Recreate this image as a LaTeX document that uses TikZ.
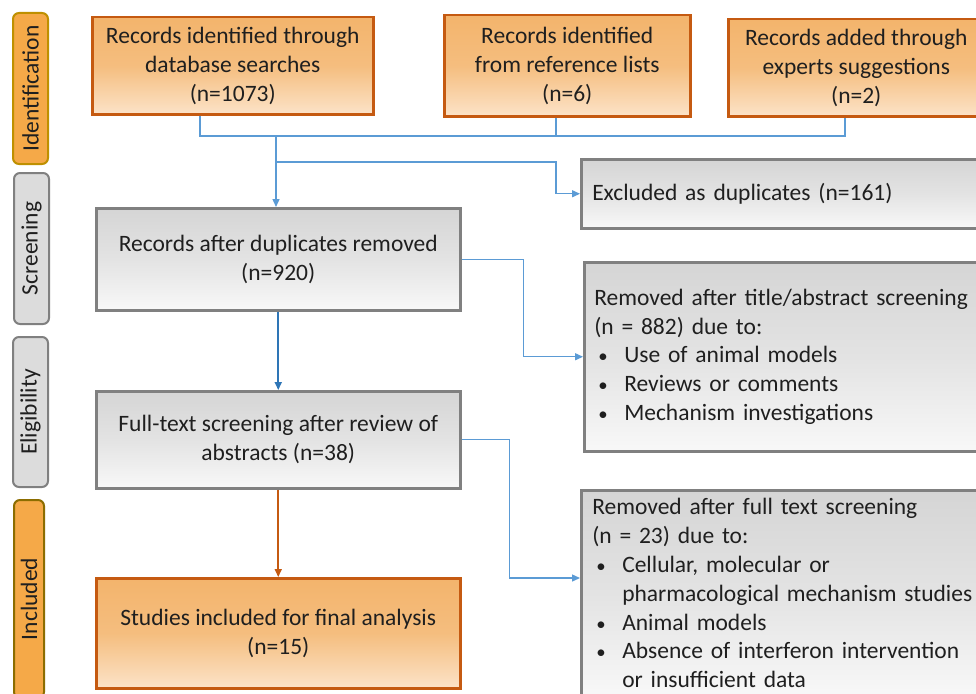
\documentclass[tikz,border=0pt]{standalone}
\usepackage{fontspec}
\setmainfont{Carlito}
\usetikzlibrary{arrows.meta,calc}
\definecolor{obord}{HTML}{C55A11}
\definecolor{otop}{HTML}{F3B46C}
\definecolor{obot}{HTML}{FCE3C8}
\definecolor{gbord}{HTML}{808080}
\definecolor{gtop}{HTML}{D5D5D5}
\definecolor{gbot}{HTML}{F8F8F8}
\definecolor{lblue}{HTML}{5B9BD5}
\definecolor{dblue}{HTML}{2E75B6}
\definecolor{txt}{HTML}{1F1F1F}
\definecolor{sideor}{HTML}{F5A948}
\definecolor{sideorb}{HTML}{BF9000}
\definecolor{sideorc}{HTML}{8C6D00}
\definecolor{sideg}{HTML}{DCDCDC}
\newcommand{\mainsz}{\fontsize{23.5}{28.8}\selectfont}
\tikzset{
  basebox/.style={anchor=north west, inner sep=0pt, line width=2.5pt, text=txt, font=\mainsz},
  obox/.style={basebox, draw=obord, top color=otop, bottom color=obot, middle color=otop!80!obot, align=center},
  gbox/.style={basebox, draw=gbord, top color=gtop, bottom color=gbot, middle color=gtop!60!gbot, align=center},
  rbox/.style={basebox, draw=gbord, top color=gtop, bottom color=gbot, middle color=gtop!60!gbot, align=left, inner xsep=10pt, text width=400pt, minimum width=420pt},
  sidelab/.style={rotate=90, rounded corners=6pt, line width=2pt, inner sep=0pt, text=txt, font=\mainsz},
  sideo/.style={sidelab, draw=sideorb, fill=sideor},
  sideg/.style={sidelab, draw=gbord, fill=sideg},
  conn/.style={draw=lblue, line width=1.4pt},
  carr/.style={conn, -{Triangle[length=8pt,width=7pt]}},
  darr/.style={draw=dblue, line width=1.8pt, -{Triangle[length=8pt,width=7pt]}},
  oarr/.style={draw=obord, line width=1.6pt, -{Triangle[length=8pt,width=7pt]}},
}
\newcommand{\bul}{\hspace*{4pt}\makebox[26pt][l]{\scalebox{0.8}{•}}}
\newcommand{\cont}{\hspace*{30pt}}
\begin{document}
\begin{tikzpicture}[x=1pt,y=-1pt]
\clip (0,0) rectangle (976,693);
\fill[white] (0,0) rectangle (976,693);
% side labels
\node[sideo, minimum width=151pt, minimum height=35pt] (sid) at (30.5,88.5) {Identification};
\node[sideg, minimum width=151pt, minimum height=35pt] (sscr) at (31.5,248.5) {Screening};
\node[sideg, minimum width=150pt, minimum height=35pt] (selg) at (30.5,412) {Eligibility};
\node[sideo, draw=sideorc, minimum width=198pt, minimum height=30pt] (sinc) at (29,599) {Included};
% top boxes
\node[obox, minimum width=281pt, minimum height=97pt] (b1) at (91,16) {Records identified through\\database searches\\(n=1073)};
\node[obox, minimum width=246pt, minimum height=101pt] (b2) at (443,14) {Records identified\\from reference lists\\(n=6)};
\node[obox, minimum width=256pt, minimum height=97pt] (b3) at (727,18) {Records added through\\experts suggestions\\(n=2)};
% main column
\node[gbox, minimum width=364pt, minimum height=102pt] (rec) at (95,207) {Records after duplicates removed\\(n=920)};
\node[gbox, minimum width=364pt, minimum height=97pt] (full) at (95,390) {Full-text screening after review of\\abstracts (n=38)};
\node[obox, minimum width=364pt, minimum height=110pt] (stud) at (95,577) {Studies included for final analysis\\(n=15)};
% right boxes
\node[rbox, inner xsep=11pt, minimum height=69pt] (excl) at (580,158) {Excluded as duplicates (n=161)};
\node[rbox, minimum height=189pt] (rem1) at (583,261) {Removed after title/abstract screening\\(n = 882) due to:\\\bul Use of animal models\\\bul Reviews or comments\\\bul Mechanism investigations};
\node[rbox, inner xsep=11pt, minimum height=206pt] (rem2) at (580,489) {Removed after full text screening\\(n = 23) due to:\\\bul Cellular, molecular or\\\cont pharmacological mechanism studies\\\bul Animal models\\\bul Absence of interferon intervention\\\cont or insufficient data};
% junctions
\coordinate (ja) at (200,136);
\coordinate (jb) at (556,136);
\coordinate (jc) at (845,136);
\coordinate (jm) at (276,136);
\coordinate (jd) at (276,162);
\coordinate (je) at (556,162);
\coordinate (r2in) at (580,578);
% connectors
\draw[conn] (b1.south -| ja) -- (ja) -- (jc) -- (b3.south -| jc);
\draw[conn] (b2.south -| jb) -- (jb);
\draw[carr] (jm) -- (rec.north -| jm);
\draw[carr] (jd) -- (je) |- (excl.west);
\draw[carr] (rec.east) -- ++(62,0) |- (rem1.west);
\draw[carr] (full.east) -- ++(48,0) |- (r2in);
\draw[darr] (rec.south) -- (full.north);
\draw[oarr] (full.south) -- (stud.north);
\end{tikzpicture}
\end{document}
